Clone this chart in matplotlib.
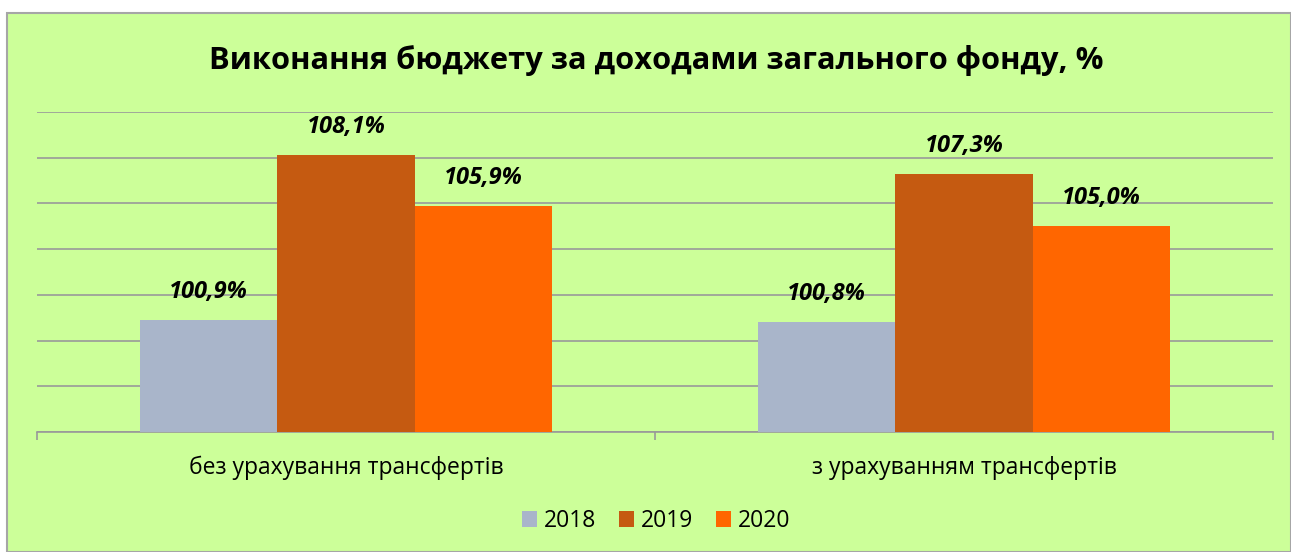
import matplotlib.pyplot as plt
import numpy as np
from matplotlib.patches import Rectangle

plt.rcParams['font.family'] = ['Open Sans', 'DejaVu Sans']

# data
categories = ['без урахування трансфертів', 'з урахуванням трансфертів']
years = ['2018', '2019', '2020']
values = {
    '2018': [100.9, 100.8],
    '2019': [108.1, 107.3],
    '2020': [105.9, 105.0],
}
colors = {'2018': '#A9B5CA', '2019': '#C55A11', '2020': '#FF6600'}
title = 'Виконання бюджету за доходами загального фонду, %'

bg = '#CCFF99'
fig = plt.figure(figsize=(12.91, 5.52), dpi=100)
fig.patch.set_facecolor('white')
# green chart area with grey frame
fig.patches.append(Rectangle((7 / 1291, 0), 1 - 7 / 1291, 1 - 13 / 552,
                             transform=fig.transFigure, facecolor=bg,
                             edgecolor='#A6A6A6', linewidth=1.5, zorder=-5))

ax = fig.add_axes([37 / 1291, 1 - 432 / 552, (1273 - 37) / 1291, (432 - 112) / 552])
ax.set_facecolor('none')

x = np.arange(len(categories))
w = 0.222
for i, yr in enumerate(years):
    pos = x + (i - 1) * w
    bars = ax.bar(pos, np.array(values[yr]) - 96, bottom=96, width=w,
                  color=colors[yr], label=yr, zorder=3)
    for b, v in zip(bars, values[yr]):
        ax.text(b.get_x() + b.get_width() / 2, v + 0.7,
                f'{v:.1f}%'.replace('.', ','), ha='center', va='bottom',
                fontsize=17, fontweight='bold', fontstyle='italic', zorder=4)

ax.set_xlim(-0.5, 1.5)
ax.set_ylim(96, 110)
ax.set_yticks(np.arange(96, 111, 2))
ax.yaxis.grid(True, color='#999999', linewidth=1.2, zorder=0)
ax.tick_params(axis='y', left=False, labelleft=False)
ax.set_xticks([-0.5, 0.5, 1.5])
ax.set_xticklabels([])
ax.tick_params(axis='x', direction='out', length=6, color='#999999', width=1.2)
ax.set_xticks(x, minor=True)
ax.set_xticklabels(categories, minor=True, fontsize=16.5)
ax.tick_params(axis='x', which='minor', length=0, pad=17)
for s in ['top', 'right', 'left']:
    ax.spines[s].set_visible(False)
ax.spines['bottom'].set_color('#999999')
ax.spines['bottom'].set_linewidth(1.2)

fig.text(656 / 1291, 1 - 60 / 552, title, ha='center', va='center',
         fontsize=22.2, fontweight='bold')

fig.legend(loc='center', bbox_to_anchor=(656 / 1291, 1 - 521 / 552), ncol=3,
           frameon=False, fontsize=16.5, handlelength=0.65, handleheight=0.65,
           handletextpad=0.3, columnspacing=1.0)

fig.savefig('out.png', dpi=100, facecolor=fig.get_facecolor())
